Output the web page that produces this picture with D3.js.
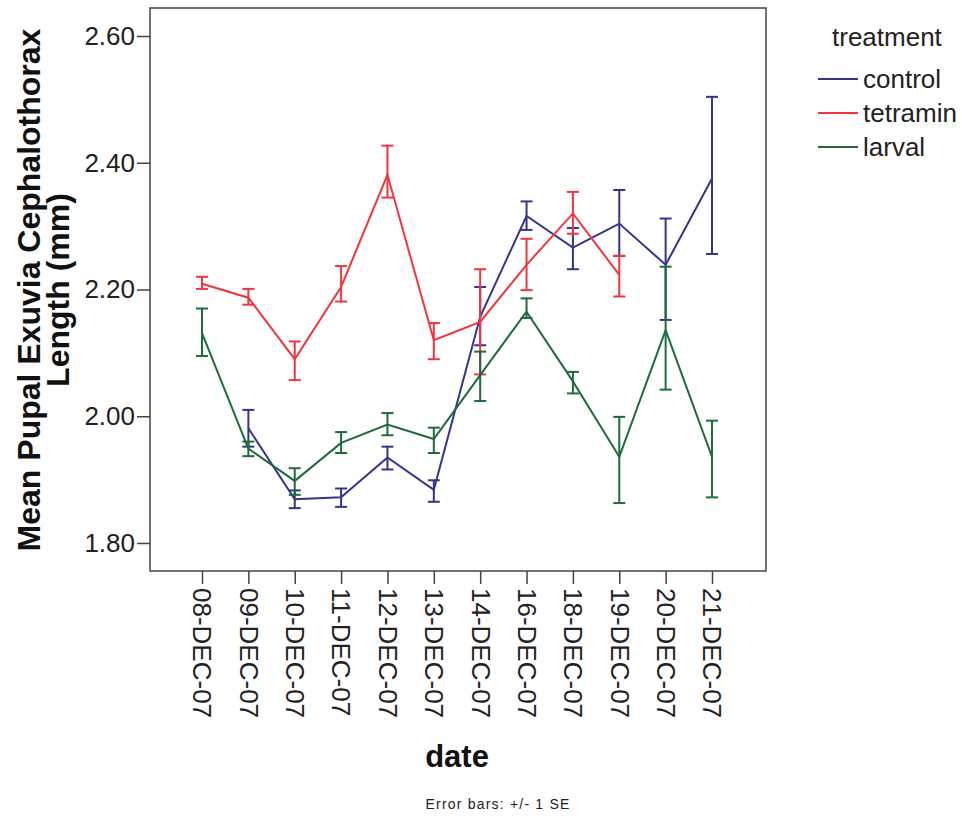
<!DOCTYPE html>
<html>
<head>
<meta charset="utf-8">
<script src="https://cdn.jsdelivr.net/npm/d3@7"></script>
<style>
  body { margin: 0; background: #fff; }
  text { font-family: "Liberation Sans", Arial, sans-serif; }
</style>
</head>
<body>
<div id="chart"></div>
<script>
// Categories (x axis)
const dates = ['08-DEC-07', '09-DEC-07', '10-DEC-07', '11-DEC-07', '12-DEC-07', '13-DEC-07',
  '14-DEC-07', '16-DEC-07', '18-DEC-07', '19-DEC-07', '20-DEC-07', '21-DEC-07'];

// Means and +/- 1 SE bounds
const controlMean = [null, 1.981, 1.869, 1.872, 1.935, 1.884, 2.157, 2.316, 2.266, 2.304, 2.239, 2.375];
const controlLow  = [null, 1.952, 1.855, 1.857, 1.916, 1.865, 2.112, 2.294, 2.232, 2.253, 2.152, 2.256];
const controlHigh = [null, 2.010, 1.883, 1.886, 1.952, 1.899, 2.204, 2.339, 2.297, 2.357, 2.312, 2.504];

const tetraminMean = [2.209, 2.187, 2.090, 2.204, 2.381, 2.120, 2.149, 2.239, 2.320, 2.223, null, null];
const tetraminLow  = [2.201, 2.176, 2.057, 2.181, 2.345, 2.090, 2.066, 2.199, 2.288, 2.189, null, null];
const tetraminHigh = [2.220, 2.201, 2.118, 2.237, 2.427, 2.147, 2.232, 2.280, 2.354, 2.253, null, null];

const larvalMean = [2.131, 1.949, 1.898, 1.958, 1.987, 1.964, 2.065, 2.165, 2.055, 1.936, 2.136, 1.936];
const larvalLow  = [2.095, 1.937, 1.876, 1.942, 1.970, 1.942, 2.024, 2.155, 2.036, 1.863, 2.042, 1.872];
const larvalHigh = [2.170, 1.960, 1.918, 1.975, 2.005, 1.982, 2.102, 2.186, 2.070, 1.999, 2.236, 1.993];

const yTicks = [1.80, 2.00, 2.20, 2.40, 2.60];
const treatments = ['control', 'tetramin', 'larval'];
const colors = ['#34358a', '#f2343e', '#1f6b3c'];

const series = [
  { name: treatments[0], mean: controlMean, low: controlLow, high: controlHigh, color: colors[0] },
  { name: treatments[1], mean: tetraminMean, low: tetraminLow, high: tetraminHigh, color: colors[1] },
  { name: treatments[2], mean: larvalMean, low: larvalLow, high: larvalHigh, color: colors[2] }
];

const width = 962;
const height = 816;
const plot = { left: 150, top: 8, right: 766, bottom: 571 };

const svg = d3.select('#chart')
  .append('svg')
  .attr('width', width)
  .attr('height', height);

const x = d3.scalePoint()
  .domain(dates)
  .range([plot.left + 52, plot.right - 54]);

const y = d3.scaleLinear()
  .domain([1.7558, 2.6442])
  .range([plot.bottom, plot.top]);

// Frame
svg.append('rect')
  .attr('x', plot.left)
  .attr('y', plot.top)
  .attr('width', plot.right - plot.left)
  .attr('height', plot.bottom - plot.top)
  .attr('fill', 'none')
  .attr('stroke', '#444')
  .attr('stroke-width', 1.5);

// Y axis
const yAxis = svg.append('g')
  .attr('transform', `translate(${plot.left}, 0)`)
  .call(d3.axisLeft(y).tickValues(yTicks).tickFormat(d3.format('.2f')).tickSize(13).tickPadding(2));
yAxis.select('.domain').remove();
yAxis.selectAll('line').attr('stroke', '#444').attr('stroke-width', 1.5);
yAxis.selectAll('text')
  .attr('font-size', 26)
  .attr('fill', '#222')
  .style('font-family', '"Liberation Sans", Arial, sans-serif');

// X axis
const xAxis = svg.append('g')
  .attr('transform', `translate(0, ${plot.bottom})`)
  .call(d3.axisBottom(x).tickSize(13).tickPadding(3));
xAxis.select('.domain').remove();
xAxis.selectAll('line').attr('stroke', '#444').attr('stroke-width', 1.5);
xAxis.selectAll('text')
  .attr('font-size', 26)
  .attr('fill', '#222')
  .style('font-family', '"Liberation Sans", Arial, sans-serif')
  .attr('transform', 'rotate(90)')
  .attr('x', 17)
  .attr('y', 0)
  .attr('dy', '0.35em')
  .style('text-anchor', 'start');

// Lines and error bars
const line = d3.line()
  .defined(d => d.mean != null)
  .x(d => x(d.date))
  .y(d => y(d.mean));

const capHalf = 6;

series.forEach(s => {
  const pts = dates.map((date, i) => ({ date, mean: s.mean[i], low: s.low[i], high: s.high[i] }));
  const g = svg.append('g');

  g.append('path')
    .datum(pts)
    .attr('d', line)
    .attr('fill', 'none')
    .attr('stroke', s.color)
    .attr('stroke-width', 2);

  const bars = g.selectAll('.err')
    .data(pts.filter(d => d.mean != null))
    .enter().append('g')
    .attr('class', 'err')
    .attr('stroke', s.color)
    .attr('stroke-width', 2);

  bars.append('line')
    .attr('x1', d => x(d.date)).attr('x2', d => x(d.date))
    .attr('y1', d => y(d.low)).attr('y2', d => y(d.high));
  bars.append('line')
    .attr('x1', d => x(d.date) - capHalf).attr('x2', d => x(d.date) + capHalf)
    .attr('y1', d => y(d.high)).attr('y2', d => y(d.high));
  bars.append('line')
    .attr('x1', d => x(d.date) - capHalf).attr('x2', d => x(d.date) + capHalf)
    .attr('y1', d => y(d.low)).attr('y2', d => y(d.low));
});

// Y axis title
const yTitle = svg.append('g')
  .attr('font-weight', 'bold')
  .attr('font-size', 32)
  .attr('fill', '#111')
  .attr('text-anchor', 'middle');
yTitle.append('text')
  .attr('transform', 'translate(40, 290) rotate(-90)')
  .text('Mean Pupal Exuvia Cephalothorax');
yTitle.append('text')
  .attr('transform', 'translate(69, 290) rotate(-90)')
  .text('Length (mm)');

// X axis title
svg.append('text')
  .attr('x', 457)
  .attr('y', 767)
  .attr('text-anchor', 'middle')
  .attr('font-weight', 'bold')
  .attr('font-size', 31)
  .attr('fill', '#111')
  .text('date');

svg.append('text')
  .attr('x', 498)
  .attr('y', 809)
  .attr('text-anchor', 'middle')
  .attr('font-size', 14)
  .attr('letter-spacing', 1.2)
  .attr('fill', '#222')
  .text('Error bars: +/- 1 SE');

// Legend
const legend = svg.append('g');
legend.append('text')
  .attr('x', 832)
  .attr('y', 46)
  .attr('font-size', 26)
  .attr('fill', '#222')
  .text('treatment');

const items = legend.selectAll('.item')
  .data(series)
  .enter().append('g')
  .attr('class', 'item')
  .attr('transform', (d, i) => `translate(0, ${79 + i * 34})`);

items.append('line')
  .attr('x1', 818).attr('x2', 858)
  .attr('y1', 0).attr('y2', 0)
  .attr('stroke', d => d.color)
  .attr('stroke-width', 2);

items.append('text')
  .attr('x', 863)
  .attr('y', 0)
  .attr('dy', '0.35em')
  .attr('font-size', 26)
  .attr('fill', '#222')
  .text(d => d.name);
</script>
</body>
</html>
